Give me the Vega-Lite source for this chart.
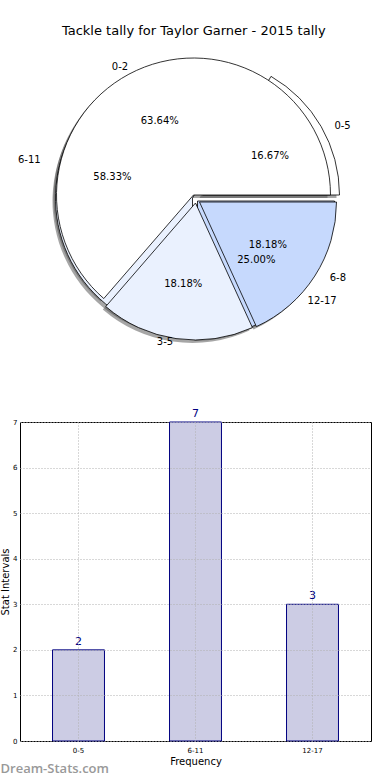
{
  "$schema": "https://vega.github.io/schema/vega-lite/v6.json",
  "padding": {"top": 25, "left": 0, "right": 0, "bottom": 0},
  "background": "white",
  "title": {"text": "Tackle tally for Taylor Garner - 2015 tally", "anchor": "middle", "fontSize": 13, "fontWeight": "normal", "font": "DejaVu Sans", "color": "black", "offset": 12, "dx": 8},
  "datasets": {
    "pie": [
      {"pie": "A", "label": "0-5", "count": 2, "share": 0.16667},
      {"pie": "A", "label": "6-11", "count": 7, "share": 0.58333},
      {"pie": "A", "label": "12-17", "count": 3, "share": 0.25},
      {"pie": "B", "label": "0-2", "count": 7, "share": 0.63636},
      {"pie": "B", "label": "3-5", "count": 2, "share": 0.18182},
      {"pie": "B", "label": "6-8", "count": 2, "share": 0.18182}
    ],
    "bars": [
      {"interval": "0-5", "count": 2},
      {"interval": "6-11", "count": 7},
      {"interval": "12-17", "count": 3}
    ]
  },
  "spacing": 50,
  "vconcat": [
    {
      "width": 351,
      "height": 298,
      "data": {"name": "pie"},
      "transform": [{"stack": "count", "groupby": ["pie"], "offset": "normalize", "as": ["t0", "t1"]}],
      "layer": [
        {"transform": [{"filter": "datum.label === '0-5'"}], "mark": {"type": "arc", "radius": 137, "xOffset": 4, "yOffset": -1, "fill": "#4d4d4d", "fillOpacity": 0.5}, "encoding": {"theta": {"field": "t0", "type": "quantitative", "scale": {"domain": [0, 1], "range": [1.5707963, -4.712389]}}, "theta2": {"field": "t1"}}},
        {"transform": [{"filter": "datum.label === '6-11'"}], "mark": {"type": "arc", "radius": 137, "xOffset": -6, "yOffset": 2, "fill": "#4d4d4d", "fillOpacity": 0.5}, "encoding": {"theta": {"field": "t0", "type": "quantitative", "scale": {"domain": [0, 1], "range": [1.5707963, -4.712389]}}, "theta2": {"field": "t1"}}},
        {"transform": [{"filter": "datum.label === '12-17'"}], "mark": {"type": "arc", "radius": 137, "xOffset": -1, "yOffset": 5, "fill": "#4d4d4d", "fillOpacity": 0.5}, "encoding": {"theta": {"field": "t0", "type": "quantitative", "scale": {"domain": [0, 1], "range": [1.5707963, -4.712389]}}, "theta2": {"field": "t1"}}},
        {"transform": [{"filter": "datum.label === '0-2'"}], "mark": {"type": "arc", "radius": 137, "xOffset": -5, "yOffset": -1, "fill": "#4d4d4d", "fillOpacity": 0.5}, "encoding": {"theta": {"field": "t0", "type": "quantitative", "scale": {"domain": [0, 1], "range": [1.5707963, -4.712389]}}, "theta2": {"field": "t1"}}},
        {"transform": [{"filter": "datum.label === '3-5'"}], "mark": {"type": "arc", "radius": 137, "xOffset": -3, "yOffset": 7, "fill": "#4d4d4d", "fillOpacity": 0.5}, "encoding": {"theta": {"field": "t0", "type": "quantitative", "scale": {"domain": [0, 1], "range": [1.5707963, -4.712389]}}, "theta2": {"field": "t1"}}},
        {"transform": [{"filter": "datum.label === '6-8'"}], "mark": {"type": "arc", "radius": 137, "xOffset": 1, "yOffset": 6, "fill": "#4d4d4d", "fillOpacity": 0.5}, "encoding": {"theta": {"field": "t0", "type": "quantitative", "scale": {"domain": [0, 1], "range": [1.5707963, -4.712389]}}, "theta2": {"field": "t1"}}},
        {"transform": [{"filter": "datum.label === '0-5'"}], "mark": {"type": "arc", "radius": 137, "xOffset": 7, "yOffset": -4, "stroke": "black", "strokeWidth": 0.8}, "encoding": {"theta": {"field": "t0", "type": "quantitative", "scale": {"domain": [0, 1], "range": [1.5707963, -4.712389]}}, "theta2": {"field": "t1"}, "color": {"field": "label", "type": "nominal", "scale": {"domain": ["0-5", "6-11", "12-17", "0-2", "3-5", "6-8"], "range": ["#ffffff", "#eaf1fe", "#c6d9fd", "#ffffff", "#eaf1fe", "#c6d9fd"]}, "legend": null}}},
        {"transform": [{"filter": "datum.label === '6-11'"}], "mark": {"type": "arc", "radius": 137, "xOffset": -3, "yOffset": -1, "stroke": "black", "strokeWidth": 0.8}, "encoding": {"theta": {"field": "t0", "type": "quantitative", "scale": {"domain": [0, 1], "range": [1.5707963, -4.712389]}}, "theta2": {"field": "t1"}, "color": {"field": "label", "type": "nominal", "legend": null}}},
        {"transform": [{"filter": "datum.label === '12-17'"}], "mark": {"type": "arc", "radius": 137, "xOffset": 2, "yOffset": 2, "stroke": "black", "strokeWidth": 0.8}, "encoding": {"theta": {"field": "t0", "type": "quantitative", "scale": {"domain": [0, 1], "range": [1.5707963, -4.712389]}}, "theta2": {"field": "t1"}, "color": {"field": "label", "type": "nominal", "legend": null}}},
        {"transform": [{"filter": "datum.label === '0-2'"}], "mark": {"type": "arc", "radius": 137, "xOffset": -2, "yOffset": -4, "stroke": "black", "strokeWidth": 0.8}, "encoding": {"theta": {"field": "t0", "type": "quantitative", "scale": {"domain": [0, 1], "range": [1.5707963, -4.712389]}}, "theta2": {"field": "t1"}, "color": {"field": "label", "type": "nominal", "legend": null}}},
        {"transform": [{"filter": "datum.label === '3-5'"}], "mark": {"type": "arc", "radius": 137, "xOffset": 0, "yOffset": 4, "stroke": "black", "strokeWidth": 0.8}, "encoding": {"theta": {"field": "t0", "type": "quantitative", "scale": {"domain": [0, 1], "range": [1.5707963, -4.712389]}}, "theta2": {"field": "t1"}, "color": {"field": "label", "type": "nominal", "legend": null}}},
        {"transform": [{"filter": "datum.label === '6-8'"}], "mark": {"type": "arc", "radius": 137, "xOffset": 4, "yOffset": 3, "stroke": "black", "strokeWidth": 0.8}, "encoding": {"theta": {"field": "t0", "type": "quantitative", "scale": {"domain": [0, 1], "range": [1.5707963, -4.712389]}}, "theta2": {"field": "t1"}, "color": {"field": "label", "type": "nominal", "legend": null}}},
        {"transform": [{"filter": "datum.pie === 'A'"}], "mark": {"type": "text", "radius": 86, "fontSize": 10, "align": "center", "baseline": "middle", "color": "black"}, "encoding": {"theta": {"field": "count", "type": "quantitative", "stack": "normalize", "scale": {"domain": [0, 1], "range": [1.5707963, -4.712389]}}, "order": {"field": "t0", "type": "quantitative"}, "text": {"field": "share", "type": "quantitative", "format": ".2%"}}},
        {"transform": [{"filter": "datum.pie === 'B'"}], "mark": {"type": "text", "radius": 86, "fontSize": 10, "align": "center", "baseline": "middle", "color": "black"}, "encoding": {"theta": {"field": "count", "type": "quantitative", "stack": "normalize", "scale": {"domain": [0, 1], "range": [1.5707963, -4.712389]}}, "order": {"field": "t0", "type": "quantitative"}, "text": {"field": "share", "type": "quantitative", "format": ".2%"}}},
        {"transform": [{"filter": "datum.pie === 'A'"}], "mark": {"type": "text", "radius": 150, "fontSize": 10, "align": "left", "baseline": "middle", "color": "black", "dx": 9, "dy": 2}, "encoding": {"theta": {"field": "count", "type": "quantitative", "stack": "normalize", "scale": {"domain": [0, 1], "range": [1.5707963, -4.712389]}}, "order": {"field": "t0", "type": "quantitative"}, "text": {"condition": {"test": "datum.label === '0-5'", "field": "label"}, "value": ""}}},
        {"transform": [{"filter": "datum.pie === 'A'"}], "mark": {"type": "text", "radius": 150, "fontSize": 10, "align": "right", "baseline": "middle", "color": "black", "dx": -10, "dy": 0}, "encoding": {"theta": {"field": "count", "type": "quantitative", "stack": "normalize", "scale": {"domain": [0, 1], "range": [1.5707963, -4.712389]}}, "order": {"field": "t0", "type": "quantitative"}, "text": {"condition": {"test": "datum.label === '6-11'", "field": "label"}, "value": ""}}},
        {"transform": [{"filter": "datum.pie === 'A'"}], "mark": {"type": "text", "radius": 150, "fontSize": 10, "align": "left", "baseline": "middle", "color": "black", "dx": 6, "dy": -4}, "encoding": {"theta": {"field": "count", "type": "quantitative", "stack": "normalize", "scale": {"domain": [0, 1], "range": [1.5707963, -4.712389]}}, "order": {"field": "t0", "type": "quantitative"}, "text": {"condition": {"test": "datum.label === '12-17'", "field": "label"}, "value": ""}}},
        {"transform": [{"filter": "datum.pie === 'B'"}], "mark": {"type": "text", "radius": 150, "fontSize": 10, "align": "right", "baseline": "middle", "color": "black", "dx": -5, "dy": 4}, "encoding": {"theta": {"field": "count", "type": "quantitative", "stack": "normalize", "scale": {"domain": [0, 1], "range": [1.5707963, -4.712389]}}, "order": {"field": "t0", "type": "quantitative"}, "text": {"condition": {"test": "datum.label === '0-2'", "field": "label"}, "value": ""}}},
        {"transform": [{"filter": "datum.pie === 'B'"}], "mark": {"type": "text", "radius": 150, "fontSize": 10, "align": "right", "baseline": "middle", "color": "black", "dx": -1, "dy": -5}, "encoding": {"theta": {"field": "count", "type": "quantitative", "stack": "normalize", "scale": {"domain": [0, 1], "range": [1.5707963, -4.712389]}}, "order": {"field": "t0", "type": "quantitative"}, "text": {"condition": {"test": "datum.label === '3-5'", "field": "label"}, "value": ""}}},
        {"transform": [{"filter": "datum.pie === 'B'"}], "mark": {"type": "text", "radius": 150, "fontSize": 10, "align": "left", "baseline": "middle", "color": "black", "dx": 8, "dy": -2}, "encoding": {"theta": {"field": "count", "type": "quantitative", "stack": "normalize", "scale": {"domain": [0, 1], "range": [1.5707963, -4.712389]}}, "order": {"field": "t0", "type": "quantitative"}, "text": {"condition": {"test": "datum.label === '6-8'", "field": "label"}, "value": ""}}}
      ]
    },
    {
      "width": 351,
      "height": 319,
      "data": {"name": "bars"},
      "view": {"stroke": "black", "strokeWidth": 1},
      "title": {"text": "Dream-Stats.com", "orient": "bottom", "anchor": "start", "frame": "bounds", "font": "Open Sans", "fontSize": 13, "fontWeight": 600, "color": "#999999", "offset": -3},
      "encoding": {
        "x": {"field": "interval", "type": "nominal", "sort": null, "scale": {"paddingInner": 0.556, "paddingOuter": 0.278},
              "axis": {"title": "Frequency", "labelAngle": 0, "labelFontSize": 7, "titleFontSize": 10, "titleFontWeight": "normal", "ticks": false, "labelPadding": 5, "titlePadding": 3, "grid": true, "bandPosition": 0.5, "gridColor": "#b0b0b0", "gridDash": [1, 2], "domain": false, "zindex": 1, "labelColor": "black", "titleColor": "black"}},
        "y": {"field": "count", "type": "quantitative", "scale": {"domain": [0, 7], "nice": false},
              "axis": {"title": "Stat Intervals", "values": [0, 1, 2, 3, 4, 5, 6, 7], "labelFontSize": 7, "titleFontSize": 10, "titleFontWeight": "normal", "ticks": false, "labelPadding": 3, "titlePadding": 2, "grid": true, "gridColor": "#b0b0b0", "gridDash": [1, 2], "domain": false, "zindex": 1, "labelColor": "black", "titleColor": "black"}}
      },
      "layer": [
        {"mark": {"type": "bar", "fill": "#ccccE4", "stroke": "#000080", "strokeWidth": 1}},
        {"mark": {"type": "text", "baseline": "bottom", "dy": -3, "color": "#000080", "fontSize": 11}, "encoding": {"text": {"field": "count", "type": "quantitative"}}}
      ]
    }
  ],
  "config": {"font": "DejaVu Sans", "view": {"stroke": null}}
}
